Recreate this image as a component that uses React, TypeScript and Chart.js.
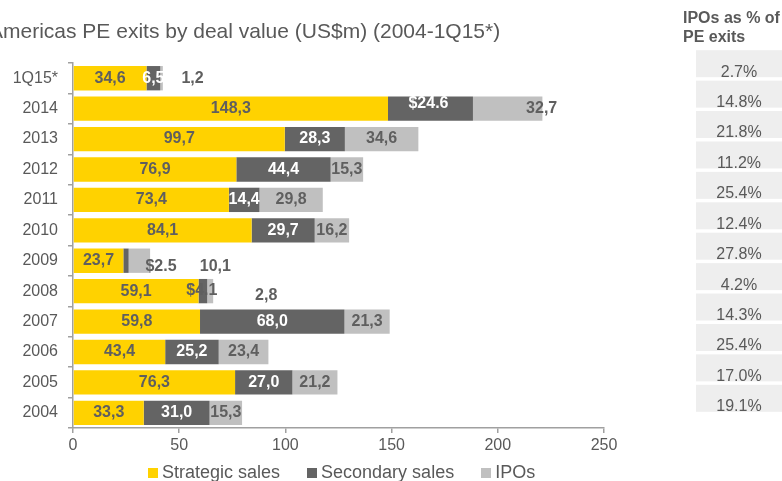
import React, { useEffect, useRef } from 'react';
import { Chart, registerables } from 'chart.js';

Chart.register(...registerables);

const categories = ['1Q15*', '2014', '2013', '2012', '2011', '2010', '2009', '2008', '2007', '2006', '2005', '2004'];
const strategicSales = [34.6, 148.3, 99.7, 76.9, 73.4, 84.1, 23.7, 59.1, 59.8, 43.4, 76.3, 33.3];
const secondarySales = [6.5, 40.0, 28.3, 44.4, 14.4, 29.7, 2.5, 4.1, 68.0, 25.2, 27.0, 31.0];
const ipos = [1.2, 32.7, 34.6, 15.3, 29.8, 16.2, 10.1, 2.8, 21.3, 23.4, 21.2, 15.3];
const strategicLabels = ['34,6', '148,3', '99,7', '76,9', '73,4', '84,1', '23,7', '59,1', '59,8', '43,4', '76,3', '33,3'];
const secondaryLabels = ['6,5', '$24.6', '28,3', '44,4', '14,4', '29,7', '$2.5', '$4.1', '68,0', '25,2', '27,0', '31,0'];
const ipoLabels = ['1,2', '32,7', '34,6', '15,3', '29,8', '16,2', '10,1', '2,8', '21,3', '23,4', '21,2', '15,3'];
const ipoShare = ['2.7%', '14.8%', '21.8%', '11.2%', '25.4%', '12.4%', '27.8%', '4.2%', '14.3%', '25.4%', '17.0%', '19.1%'];
const seriesNames = ['Strategic sales', 'Secondary sales', 'IPOs'];
const xMin = 0;
const xMax = 250;
const xStep = 50;

const FONT = "'Liberation Sans', Arial, sans-serif";
const YELLOW = '#FFD200';
const DARK = '#646464';
const LIGHT = '#C0C0C0';
const TEXT = '#595959';
const LABEL_DARK = '#5F5F5F';
const AXIS = '#A0A0A0';
const seriesColors = [YELLOW, DARK, LIGHT];

// per-label nudges: [dx, dy, colour override]
const labelNudges: Record<string, [number, number, string?]> = {
  '2-0': [31, 0],
  '1-1': [-2, -5],
  '2-1': [34, 0],
  '1-6': [35, 6, LABEL_DARK],
  '2-6': [76, 6],
  '1-7': [-1, -1, LABEL_DARK],
  '2-7': [56, 4],
};

const labelSets = [strategicLabels, secondaryLabels, ipoLabels];
const labelColors = [LABEL_DARK, '#FFFFFF', LABEL_DARK];

const barLabelPlugin = {
  id: 'barLabels',
  afterDatasetsDraw(chart: any) {
    const ctx = chart.ctx;
    ctx.save();
    ctx.font = `bold 16px ${FONT}`;
    ctx.textAlign = 'center';
    ctx.textBaseline = 'middle';
    chart.data.datasets.forEach((_ds: any, d: number) => {
      const meta = chart.getDatasetMeta(d);
      meta.data.forEach((el: any, i: number) => {
        const p = el.getProps(['x', 'y', 'base'], true);
        const nudge = labelNudges[`${d}-${i}`] || [0, 0];
        ctx.fillStyle = nudge[2] || labelColors[d];
        ctx.fillText(labelSets[d][i], (p.x + p.base) / 2 + nudge[0], p.y + nudge[1]);
      });
    });
    ctx.restore();
  },
};

const sharePanelPlugin = {
  id: 'sharePanel',
  afterDraw(chart: any) {
    const ctx = chart.ctx;
    const y = chart.scales.y;
    const left = chart.chartArea.right + 92;
    const w = chart.width - left;
    ctx.save();
    ctx.font = `16px ${FONT}`;
    ctx.textAlign = 'center';
    ctx.textBaseline = 'middle';
    ipoShare.forEach((t, i) => {
      const py = y.getPixelForValue(i);
      ctx.fillStyle = '#EEEEEE';
      ctx.fillRect(left, py - 28, w, 27);
      ctx.fillStyle = TEXT;
      ctx.fillText(t, left + w / 2, py - 6);
    });
    ctx.restore();
  },
};

export default function App() {
  const ref = useRef<HTMLCanvasElement>(null);

  useEffect(() => {
    if (!ref.current) return;
    const chart = new Chart(ref.current, {
      type: 'bar',
      data: {
        labels: categories,
        datasets: [strategicSales, secondarySales, ipos].map((vals, k) => ({
          label: seriesNames[k],
          data: vals,
          backgroundColor: seriesColors[k],
          borderWidth: 0,
          barPercentage: 0.8,
          categoryPercentage: 1,
        })),
      },
      options: {
        indexAxis: 'y',
        responsive: false,
        animation: false,
        devicePixelRatio: 1,
        layout: { padding: { top: 63, right: 178, bottom: 23, left: 0 } },
        plugins: {
          legend: { display: false },
          tooltip: { enabled: false },
          title: { display: false },
        },
        scales: {
          x: {
            stacked: true,
            min: xMin,
            max: xMax,
            afterFit: (s: any) => { s.height = 30; },
            ticks: { stepSize: xStep, color: TEXT, font: { family: FONT, size: 16 }, padding: 3 },
            grid: { drawOnChartArea: false, drawTicks: true, tickLength: 5, color: AXIS, lineWidth: 1.5 },
            border: { display: true, color: AXIS, width: 1.5 },
          },
          y: {
            stacked: true,
            afterFit: (s: any) => { s.width = 73; },
            ticks: { color: TEXT, font: { family: FONT, size: 16 }, padding: 10 },
            grid: { offset: true, drawOnChartArea: false, drawTicks: true, tickLength: 5, color: AXIS, lineWidth: 1.5 },
            border: { display: true, color: AXIS, width: 1.5 },
          },
        },
      },
      plugins: [barLabelPlugin, sharePanelPlugin],
    } as any);
    return () => chart.destroy();
  }, []);

  return (
    <div style={{ position: 'absolute', left: 0, top: 0, width: 782, height: 481, overflow: 'hidden', background: '#fff', fontFamily: FONT }}>
      <canvas ref={ref} width={782} height={481} style={{ display: 'block', position: 'absolute', left: 0, top: 0 }} />
      <div style={{ position: 'absolute', left: -11, top: 19, fontSize: 21, lineHeight: '24px', color: TEXT, whiteSpace: 'nowrap' }}>
        Americas PE exits by deal value (US$m) (2004-1Q15*)
      </div>
      <div style={{ position: 'absolute', left: 683, top: 8, fontSize: 16, lineHeight: '19px', fontWeight: 'bold', color: TEXT, whiteSpace: 'nowrap' }}>
        IPOs as % of<br />PE exits
      </div>
      <div style={{ position: 'absolute', left: 148, top: 462, fontSize: 18, lineHeight: '20px', color: TEXT, whiteSpace: 'nowrap' }}>
        {seriesNames.map((n, k) => (
          <span key={n} style={{ marginRight: 27 }}>
            <span style={{ display: 'inline-block', width: 10, height: 10, background: seriesColors[k], marginRight: 4, verticalAlign: 'baseline' }} />
            {n}
          </span>
        ))}
      </div>
    </div>
  );
}
